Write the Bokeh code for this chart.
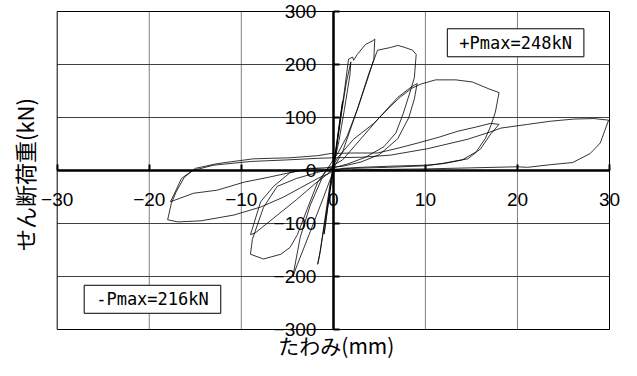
import math
from bokeh.plotting import figure
from bokeh.models import FixedTicker, Label
from bokeh.embed import file_html
from bokeh.resources import INLINE

# ---- axis ticks ----
x_ticks = [-30, -20, -10, 0, 10, 20, 30]
y_ticks = [-300, -200, -100, 0, 100, 200, 300]

# ---- hysteresis record, cycle by cycle (displacement mm, shear kN) ----
cyc0_x = [0.0]
cyc0_y = [0]

cyc1_x = [0.3, 0.7, 1.0, 0.9, 0.4, 0.0, -0.4, -0.8, -1.0, -0.9, -0.4, 0.0]
cyc1_y = [40, 95, 130, 115, 50, 5, -40, -95, -120, -105, -45, 0]

cyc2_x = [0.4, 0.9, 1.4, 1.9, 1.8, 1.2, 0.6, 0.1, -0.4, -0.9, -1.4, -1.7, -1.5, -1.0, -0.5, 0.0]
cyc2_y = [50, 110, 165, 205, 180, 115, 55, 15, -30, -90, -150, -177, -160, -105, -50, 10]

cyc3_x = [0.6, 1.2, 1.65, 2.1, 2.2, 2.6, 3.5, 4.3, 4.5, 4.4, 3.8, 2.6, 1.5, 0.5, -0.2,
          -1.1, -2.5, -3.6, -4.4, -3.9, -2.5, -1.1, -0.3, 0.2]
cyc3_y = [80, 150, 210, 214, 208, 219, 238, 245, 248, 210, 177, 115, 65, 33, 15,
          -9, -65, -126, -200, -177, -115, -52, -15, 10]

cyc4_x = [1.0, 2.6, 3.8, 4.8, 6.2, 7.0, 7.8, 8.6, 9.0, 8.8, 8.4, 7.6, 6.8, 5.5, 3.5, 1.5, 0.0,
          -2.0, -4.0, -6.1, -7.6, -8.8, -9.0, -7.6, -5.7, -4.7, -3.9, -2.8, -1.7, -0.6]
cyc4_y = [35, 115, 180, 227, 232, 236, 232, 227, 219, 175, 152, 108, 71, 45, 25, 12, 5,
          -5, -15, -30, -70, -130, -158, -167, -158, -145, -121, -71, -22, 4]

cyc5_x = [1.0, 3.0, 5.0, 7.0, 8.5, 9.1, 8.8, 8.2, 7.0, 5.0, 3.0, 1.0, -1.0, -2.5, -4.7,
          -6.5, -7.9, -9.0, -8.5, -6.5, -4.0, -2.0, -0.5]
cyc5_y = [20, 60, 100, 138, 158, 164, 135, 100, 60, 30, 16, 8, 5, 4, -4,
          -30, -59, -121, -118, -90, -55, -25, -5]

cyc6_x = [0.5, 2.2, 4.4, 6.2, 7.3, 8.5, 9.5, 11.1, 13.3, 15.1, 16.9, 18.0, 17.6, 17.1, 16.5,
          15.5, 14.0, 12.0, 10.0, 6.0, 3.0, 1.0, -0.3, -1.7, -3.6, -5.4, -7.9, -10.8, -14.4,
          -16.9, -18.0, -17.6, -17.1, -16.2, -15.0, -12.6, -8.7, -4.7, -1.7, -0.3]
cyc6_y = [25, 59, 89, 121, 139, 155, 163, 171, 171, 167, 154, 147, 110, 84, 60,
          35, 20, 13, 10, 8, 6, 4, -4, -15, -33, -50, -69, -84, -95,
          -97, -93, -62, -41, -13, 4, 13, 22, 24, 28, 32]

cyc7_x = [2.0, 4.8, 7.0, 9.2, 11.5, 13.5, 15.5, 17.1, 18.0, 17.1, 16.0, 14.6, 11.7, 10.2, 6.0,
          2.0, -0.5, -2.5, -4.7, -7.1, -9.7, -12.6, -15.2, -17.7, -17.3, -16.5, -15.3, -13.0,
          -9.0, -5.0, -1.7, 0.0]
cyc7_y = [33, 33, 42, 52, 63, 74, 82, 89, 87, 69, 41, 22, 13, 9, 6,
          4, 2, 4, -4, -13, -22, -37, -43, -59, -45, -15, 0, 10,
          17, 20, 23, 24]

cyc8_x = [3.0, 6.2, 10.2, 14.6, 17.1, 18.2, 21.1, 23.6, 26.1, 28.3, 29.9, 29.0, 27.9, 26.0,
          23.6, 21.1, 20.0, 15.0, 10.0, 5.0, 2.0]
cyc8_y = [25, 29, 41, 59, 73, 80, 87, 93, 97, 98, 95, 52, 32, 15,
          11, 6, 7, 5, 3, 2, 1]

disp = cyc0_x + cyc1_x + cyc2_x + cyc3_x + cyc4_x + cyc5_x + cyc6_x + cyc7_x + cyc8_x
load = cyc0_y + cyc1_y + cyc2_y + cyc3_y + cyc4_y + cyc5_y + cyc6_y + cyc7_y + cyc8_y

pmax_pos_text = "+Pmax=248kN"
pmax_neg_text = "-Pmax=216kN"

x_title = "たわみ(mm)"
y_title = "せん断荷重(kN)"

# ---- layout (canvas pixels) ----
W, H = 621, 360
BOX_L, BOX_R = 56.7, 609.0      # canvas x of x=-30 and x=+30
BOX_T, BOX_B = 11.0, 329.0      # canvas y of y=+300 and y=-300
sx = (BOX_R - BOX_L) / (x_ticks[-1] - x_ticks[0])
sy = (BOX_B - BOX_T) / (y_ticks[-1] - y_ticks[0])
x_lo = x_ticks[0] - BOX_L / sx
x_hi = x_ticks[-1] + (W - BOX_R) / sx
y_hi = y_ticks[-1] + BOX_T / sy
y_lo = y_ticks[0] - (H - BOX_B) / sy

p = figure(width=W, height=H, x_range=(x_lo, x_hi), y_range=(y_lo, y_hi),
           output_backend="svg", toolbar_location=None,
           min_border=0, min_border_left=0, min_border_right=0,
           min_border_top=0, min_border_bottom=0)
p.title.visible = False
p.background_fill_color = "white"
p.border_fill_color = "white"
p.outline_line_color = None
p.xgrid.visible = False
p.ygrid.visible = False

# grid lines limited to the plotting box
inner_x = x_ticks[1:-1]
inner_y = y_ticks[1:-1]
p.segment(x0=inner_x, x1=inner_x, y0=[y_ticks[0]] * len(inner_x), y1=[y_ticks[-1]] * len(inner_x),
          line_color="#808080", line_width=1)
p.segment(x0=[x_ticks[0]] * len(inner_y), x1=[x_ticks[-1]] * len(inner_y), y0=inner_y, y1=inner_y,
          line_color="#404040", line_width=1)
# plotting box
p.quad(left=[x_ticks[0]], right=[x_ticks[-1]], bottom=[y_ticks[0]], top=[y_ticks[-1]],
       fill_color=None, line_color="black", line_width=1)

# the record
p.line(disp, load, line_color="black", line_width=0.8)

tick_font = "Liberation Sans"
for ax, ticks in ((p.xaxis[0], x_ticks), (p.yaxis[0], y_ticks)):
    ax.fixed_location = 0
    ax.bounds = (ticks[0], ticks[-1])
    ax.ticker = FixedTicker(ticks=ticks)
    ax.axis_line_color = "black"
    ax.axis_line_width = 2.5
    ax.major_tick_in = 6
    ax.major_tick_out = 0
    ax.major_tick_line_width = 2
    ax.major_tick_line_color = "black"
    ax.minor_tick_in = 0
    ax.minor_tick_out = 0
    ax.major_label_text_font = tick_font
    ax.major_label_text_font_size = "19px"
    ax.major_label_text_color = "black"
p.xaxis[0].major_label_standoff = 22
p.yaxis[0].major_label_standoff = 17

# axis titles
title_font = "Noto Sans CJK JP"
p.add_layout(Label(x=0, y=y_ticks[0], x_offset=3, y_offset=-15, text=x_title,
                   text_align="center", text_baseline="alphabetic",
                   text_font=title_font, text_font_size="21px", text_color="black"))
p.add_layout(Label(x=x_ticks[0], y=0, x_offset=-(BOX_L - 23), y_offset=-4, text=y_title,
                   angle=math.pi / 2, angle_units="rad",
                   text_align="center", text_baseline="middle",
                   text_font=title_font, text_font_size="22px", text_color="black"))

def make_label(x, y, text):
    kw = dict(x=x, y=y, text=text, text_align="center", text_baseline="middle",
              text_font="DejaVu Sans Mono", text_font_size="17px", text_color="black",
              border_line_color="black", border_line_width=1,
              background_fill_color="white")
    try:
        return Label(padding=dict(left=12, right=12, top=4, bottom=4), **kw)
    except Exception:
        return Label(padding=4, **kw)

p.add_layout(make_label(19.8, 241, pmax_pos_text))
p.add_layout(make_label(-19.65, -243, pmax_neg_text))

open("out.html", "w").write(file_html(p, INLINE))
